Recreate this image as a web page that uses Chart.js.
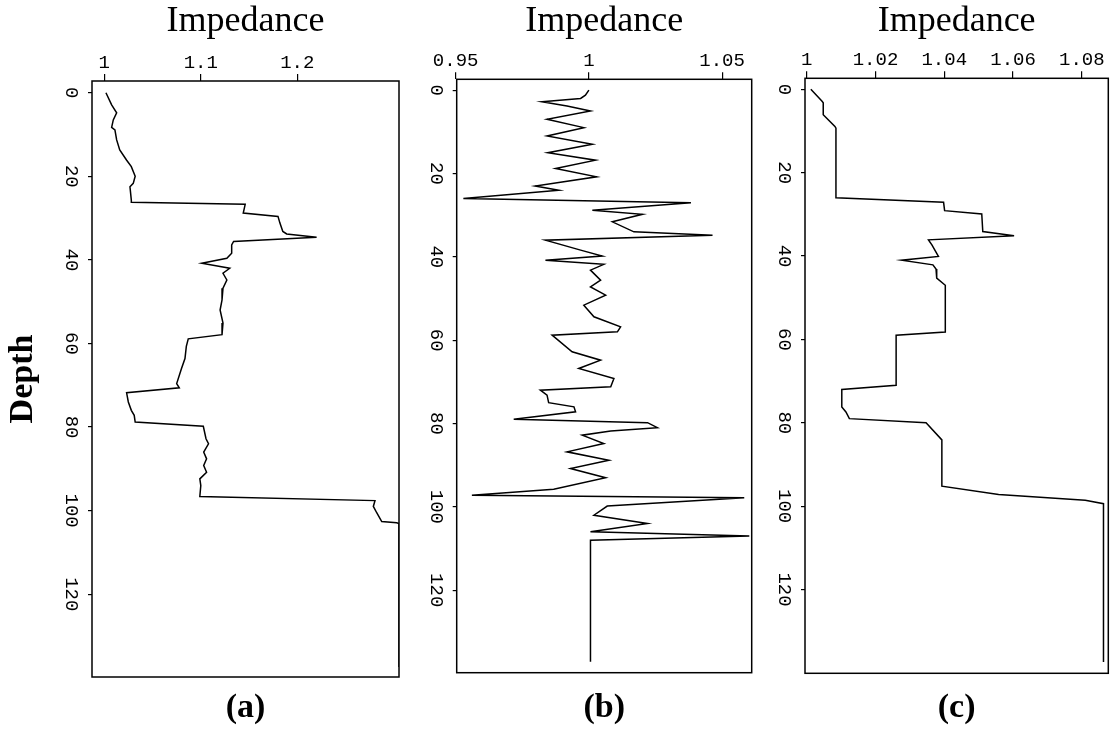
<!DOCTYPE html>
<html>
<head>
<meta charset="utf-8">
<script src="https://cdn.jsdelivr.net/npm/chart.js@4.4.1/dist/chart.umd.min.js"></script>
<style>
  html, body { margin: 0; padding: 0; background: #fff; }
  body { width: 1111px; height: 732px; position: relative; overflow: hidden; }
  canvas { position: absolute; top: 0; }
</style>
</head>
<body>
<canvas id="ca" width="410" height="732" style="left:0px"></canvas>
<canvas id="cb" width="350" height="732" style="left:410px"></canvas>
<canvas id="cc" width="351" height="732" style="left:760px"></canvas>
<script>
// ---- data (depth, impedance) ----
const depthA = [0, 2.9, 4.8, 6.5, 8.3, 8.9, 11.3, 13.7, 16.1, 17.7, 20, 21.7, 22.5, 25.7, 26.2, 26.7, 28.8, 29.6, 31.2, 33.2, 33.8, 34.6, 35.6, 36.4, 38.4, 39.6, 40.8, 42, 43.2, 44.8, 46.8, 49.6, 52, 55.1, 57.9, 58.9, 60.7, 63.6, 66, 69.6, 70.6, 71.8, 74, 76, 77.2, 78.8, 79.8, 82.8, 84, 86, 87.6, 89.2, 90.8, 92.4, 94, 96.6, 97.6, 99, 100.5, 102.6, 102.9, 103.1, 137.4];
const impA = [1.0017, 1.0076, 1.0128, 1.0093, 1.0076, 1.011, 1.0128, 1.016, 1.023, 1.028, 1.032, 1.030, 1.0266, 1.028, 1.028, 1.146, 1.144, 1.180, 1.182, 1.185, 1.189, 1.220, 1.134, 1.132, 1.132, 1.127, 1.101, 1.130, 1.123, 1.127, 1.123, 1.122, 1.120, 1.123, 1.122, 1.087, 1.085, 1.0836, 1.080, 1.075, 1.0777, 1.0231, 1.0249, 1.028, 1.031, 1.032, 1.1026, 1.1054, 1.108, 1.103, 1.106, 1.103, 1.106, 1.099, 1.100, 1.099, 1.2805, 1.2788, 1.2823, 1.2875, 1.303, 1.3054, 1.3054];

const depthB = [0, 1.2, 2.0, 2.8, 3.8, 5.0, 7.0, 9.0, 11.0, 13.0, 15.0, 16.8, 18.8, 20.8, 23.0, 24.0, 26.0, 27.0, 28.8, 29.8, 31.6, 34.0, 34.8, 36.0, 38.4, 39.8, 40.8, 41.8, 43.2, 45.6, 47.2, 49.2, 51.6, 54.4, 56.8, 58.0, 58.8, 62.8, 64.8, 66.8, 69.2, 71.2, 72.0, 73.2, 75.0, 76.0, 77.2, 79.0, 79.8, 81.0, 81.8, 82.8, 84.8, 86.8, 88.8, 90.8, 93.0, 95.8, 97.2, 97.8, 99.8, 102.0, 104.0, 106.0, 107.0, 108.0, 137.2];
const impB = [1.0000, 0.9987, 0.9969, 0.9824, 0.9918, 1.0006, 0.9843, 0.9981, 0.9843, 1.0013, 0.9846, 1.0025, 0.9875, 1.0029, 0.9799, 0.9887, 0.9529, 1.0383, 1.0013, 1.0201, 1.0088, 1.0169, 1.0464, 0.9837, 0.9969, 1.0050, 0.9837, 1.0056, 1.0006, 1.0044, 1.0006, 1.0063, 0.9981, 1.0019, 1.0119, 1.0107, 0.9862, 0.9937, 1.0044, 0.9962, 1.0094, 1.0082, 0.9818, 0.9843, 0.9849, 0.9944, 0.9950, 0.9718, 1.0220, 1.0257, 1.0082, 0.9975, 1.0056, 0.9918, 1.0075, 0.9931, 1.0063, 0.9868, 0.9561, 1.0583, 1.0069, 1.0019, 1.0220, 1.0006, 1.0602, 1.0006, 1.0006];

const depthC = [0, 2.8, 3.2, 6.1, 8.9, 9.3, 26, 27.1, 29.1, 29.9, 34.1, 35.1, 36.1, 37.3, 40.1, 41, 42.1, 43.1, 45.3, 47, 58.2, 59, 71, 72, 76.2, 77.4, 79, 80, 84.1, 95.2, 97.2, 98.6, 99.4, 137.4];
const impC = [1.0012, 1.0044, 1.0048, 1.0048, 1.0082, 1.0085, 1.0085, 1.0398, 1.0401, 1.0509, 1.0512, 1.0603, 1.0354, 1.0364, 1.0383, 1.0276, 1.0367, 1.0376, 1.0378, 1.0403, 1.0403, 1.026, 1.026, 1.0102, 1.0102, 1.0114, 1.0124, 1.0347, 1.0393, 1.0393, 1.0558, 1.081, 1.0863, 1.0863];

// ---- ticks ----
const depthTicks = [0, 20, 40, 60, 80, 100, 120];
const depthTickLabels = ['0', '20', '40', '60', '80', '100', '120'];
const impTicksA = [1, 1.1, 1.2];
const impTickLabelsA = ['1', '1.1', '1.2'];
const impTicksB = [0.95, 1, 1.05];
const impTickLabelsB = ['0.95', '1', '1.05'];
const impTicksC = [1, 1.02, 1.04, 1.06, 1.08];
const impTickLabelsC = ['1', '1.02', '1.04', '1.06', '1.08'];

const xTitle = 'Impedance';
const yTitle = 'Depth';
const panelLabels = ['(a)', '(b)', '(c)'];

const framePlugin = {
  id: 'frame',
  afterDatasetsDraw(chart) {
    const { ctx, chartArea: { left, top, right, bottom } } = chart;
    ctx.save();
    ctx.strokeStyle = '#000';
    ctx.lineWidth = 1.5;
    ctx.strokeRect(left, top, right - left, bottom - top);
    ctx.restore();
  }
};

function makePanel(id, p) {
  const pts = p.depth.map((d, i) => ({ x: p.imp[i], y: d }));
  return new Chart(document.getElementById(id), {
    type: 'scatter',
    data: {
      datasets: [{
        data: pts,
        showLine: true,
        borderColor: '#000',
        borderWidth: 1.5,
        pointRadius: 0,
        tension: 0,
        fill: false
      }]
    },
    options: {
      responsive: false,
      animation: false,
      devicePixelRatio: 1,
      layout: { padding: { left: 0, right: p.padRight, top: 0, bottom: 0 } },
      plugins: {
        legend: { display: false },
        tooltip: { enabled: false },
        title: {
          display: true,
          position: 'bottom',
          fullSize: false,
          text: p.label,
          color: '#000',
          font: { family: 'Liberation Serif', size: 34, weight: 'bold' },
          padding: { top: p.labelPadTop, bottom: p.labelPadBottom }
        }
      },
      scales: {
        x: {
          type: 'linear',
          position: 'top',
          min: p.xmin, max: p.xmax,
          afterBuildTicks: (s) => { s.ticks = p.xTicks.map(v => ({ value: v })); },
          afterFit: (s) => { s.height = p.xAxisHeight; },
          ticks: {
            callback: (v, i) => p.xLabels[i],
            color: '#000',
            font: { family: 'Liberation Mono', size: 19 },
            padding: 0,
            maxRotation: 0, minRotation: 0,
            autoSkip: false
          },
          grid: { display: true, drawOnChartArea: false, drawTicks: true, tickLength: 7, color: '#000', lineWidth: 1.2 },
          border: { display: false },
          title: {
            display: true, text: xTitle, color: '#000',
            font: { family: 'Liberation Serif', size: 36 },
            padding: { top: 0, bottom: 0 }
          }
        },
        y: {
          type: 'linear',
          position: 'left',
          reverse: true,
          min: p.ymin, max: p.ymax,
          afterBuildTicks: (s) => { s.ticks = depthTicks.map(v => ({ value: v })); },
          afterFit: (s) => { s.width = p.yAxisWidth; },
          ticks: {
            callback: (v, i) => depthTickLabels[i],
            color: '#000',
            font: { family: 'Liberation Mono', size: 19 },
            padding: 0,
            minRotation: -90, maxRotation: 0,
            crossAlign: 'center',
            autoSkip: false
          },
          grid: { display: true, drawOnChartArea: false, drawTicks: true, tickLength: 4, color: '#000', lineWidth: 1.2 },
          border: { display: false },
          title: {
            display: p.showYTitle, text: yTitle, color: '#000',
            font: { family: 'Liberation Serif', size: 34, weight: 'bold' },
            padding: { top: 3, bottom: 0 }
          }
        }
      }
    },
    plugins: [framePlugin]
  });
}

makePanel('ca', {
  depth: depthA, imp: impA, xTicks: impTicksA, xLabels: impTickLabelsA,
  xmin: 0.98725, xmax: 1.3054, ymin: -2.8, ymax: 139.8,
  yAxisWidth: 92, xAxisHeight: 81, padRight: 11,
  label: panelLabels[0], labelPadTop: 11, labelPadBottom: 3.2, showYTitle: true
});
makePanel('cb', {
  depth: depthB, imp: impB, xTicks: impTicksB, xLabels: impTickLabelsB,
  xmin: 0.9504, xmax: 1.0611, ymin: -2.6, ymax: 139.8,
  yAxisWidth: 46.7, xAxisHeight: 79.3, padRight: 8.3,
  label: panelLabels[1], labelPadTop: 15.4, labelPadBottom: 3.1, showYTitle: false
});
makePanel('cc', {
  depth: depthC, imp: impC, xTicks: impTicksC, xLabels: impTickLabelsC,
  xmin: 0.9995, xmax: 1.0877, ymin: -2.65, ymax: 140.1,
  yAxisWidth: 45, xAxisHeight: 78.3, padRight: 2.7,
  label: panelLabels[2], labelPadTop: 14.8, labelPadBottom: 3.1, showYTitle: false
});
</script>
</body>
</html>
